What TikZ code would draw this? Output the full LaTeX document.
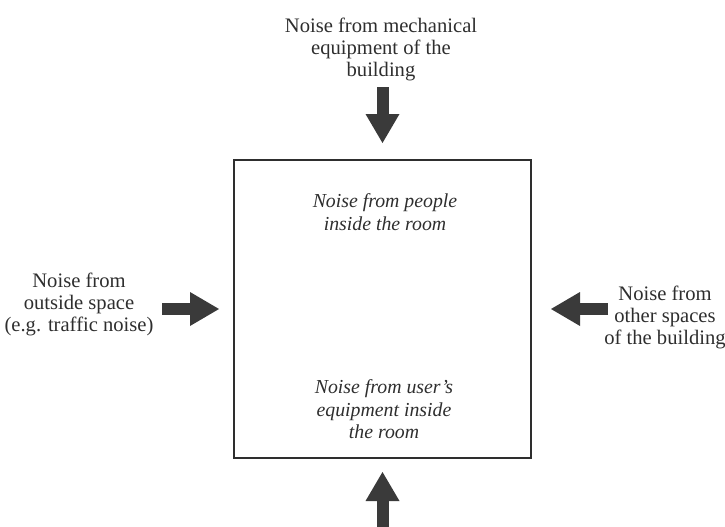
\documentclass[tikz,border=0pt]{standalone}
\usepackage{fontspec}
\setmainfont{Liberation Serif}
\usetikzlibrary{arrows.meta}
\definecolor{inkgray}{HTML}{2E2E2E}
\definecolor{arrowgray}{HTML}{3A3A3A}
\begin{document}
\begin{tikzpicture}[x=1pt,y=-1pt,
  srctext/.style={anchor=north,align=center,inner sep=0pt,text=inkgray,font=\fontsize{20.6}{22}\selectfont},
  roomtext/.style={srctext,font=\itshape\fontsize{19.8}{22.5}\selectfont},
  noise/.style={draw=arrowgray,line width=12pt,line cap=butt,
    -{Triangle[width=34pt,length=29pt,line width=0pt]}}]
\useasboundingbox (0,0) rectangle (725,527);
% the room
\node[draw=inkgray,line width=2.4pt,outer sep=0pt,inner sep=0pt,
  minimum width=297pt,minimum height=298pt] (room) at (382.5,309) {};
\node[roomtext] (people) at (385,193.5) {Noise from people\\inside the room};
\node[roomtext] (user) at (384,379.5) {Noise from user's\\equipment inside\\the room};
% sources outside the room
\node[srctext] (mech) at (381,17.9) {Noise from mechanical\\equipment of the\\building};
\node[srctext] (outside) at (79,272.9) {Noise from\\outside space\\(e.g. traffic noise)};
\node[srctext] (others) at (665,285.9) {Noise from\\other spaces\\of the building};
% arrow tails
\coordinate (mech-tail) at (382.5,87);
\coordinate (outside-tail) at (162,309);
\coordinate (others-tail) at (608,309);
\coordinate (floor-tail) at (382.5,527);
% arrows
\draw[noise,shorten >=17pt] (mech-tail) -- (room.north);
\draw[noise,shorten >=15pt] (outside-tail) -- (room.west);
\draw[noise,shorten >=20pt] (others-tail) -- (room.east);
\draw[noise,shorten >=14pt] (floor-tail) -- (room.south);
\end{tikzpicture}
\end{document}
